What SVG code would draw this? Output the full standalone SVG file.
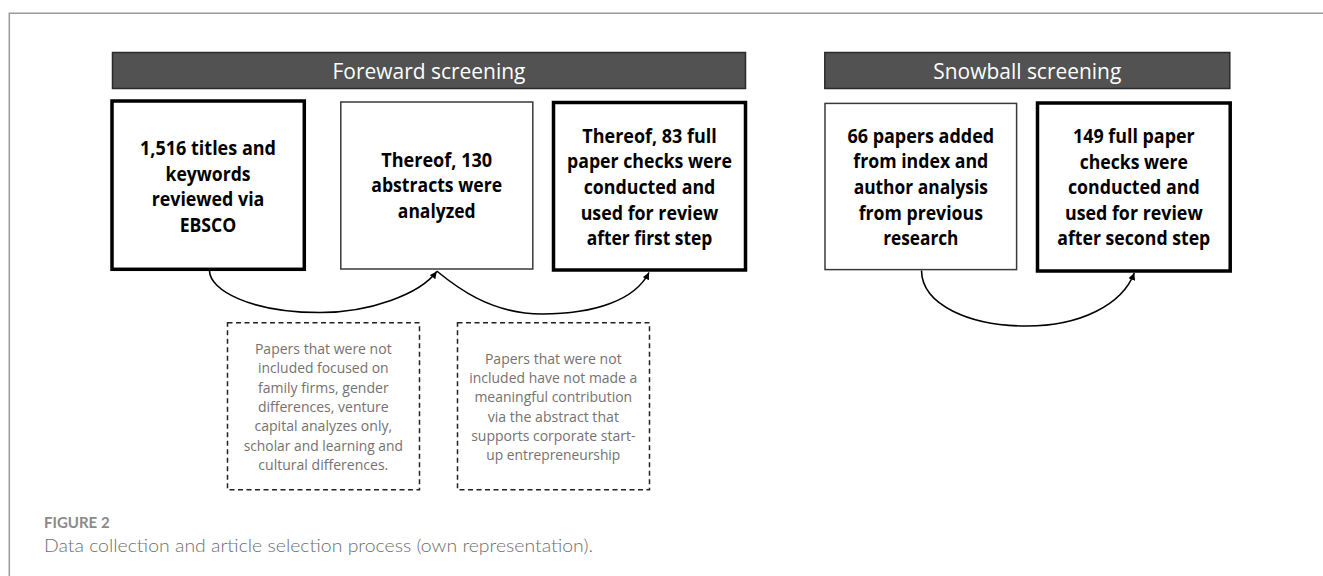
<svg xmlns="http://www.w3.org/2000/svg" width="1323" height="576" viewBox="0 0 1323 576">
<style>
.frame{fill:none;stroke:#9a9a9a;stroke-width:1.5}
.bar{fill:#525252;stroke:#2a2a2a;stroke-width:1.5}
.bartxt{font-family:"Open Sans","Liberation Sans",sans-serif;font-size:21.5px;fill:#ffffff;text-anchor:middle}
.thick{fill:#ffffff;stroke:#000000;stroke-width:3.5}
.thin{fill:#ffffff;stroke:#3a3a3a;stroke-width:1.5}
.btxt{font-family:"Open Sans","Liberation Sans",sans-serif;font-size:18.8px;font-weight:700;fill:#000000;text-anchor:middle}
.dash{fill:#ffffff;stroke:#222222;stroke-width:1.5;stroke-dasharray:5 3.5}
.dtxt{font-family:"Open Sans","Liberation Sans",sans-serif;font-size:15px;fill:#767171;text-anchor:middle}
.conn{fill:none;stroke:#000000;stroke-width:1.6}
.cap1{font-family:Lato,"Liberation Sans",sans-serif;font-size:15px;font-weight:700;fill:#8a8a8a}
.cap2{font-family:Lato,"Liberation Sans",sans-serif;font-size:17.5px;font-weight:300;fill:#6e6e6e}
</style>
<defs>
<marker id="arr" markerUnits="userSpaceOnUse" markerWidth="10" markerHeight="10" refX="7" refY="3.5" orient="auto">
<path d="M0,0 L7,3.5 L0,7 z" fill="#000000"/>
</marker>
</defs>
<g id="frame">
<path class="frame" d="M9.3,576 L9.3,13.3 L1323,13.3"/>
</g>
<g id="bar-foreward">
<rect class="bar" x="112.5" y="52.5" width="633" height="36"/>
<text class="bartxt" x="429" y="78.8" textLength="193" lengthAdjust="spacingAndGlyphs">Foreward screening</text>
</g>
<g id="bar-snowball">
<rect class="bar" x="824.8" y="52.5" width="405" height="36"/>
<text class="bartxt" x="1027.3" y="78.8" textLength="188" lengthAdjust="spacingAndGlyphs">Snowball screening</text>
</g>
<g id="box1">
<rect class="thick" x="112" y="101" width="192.3" height="168.3"/>
<text class="btxt" x="208" y="155" textLength="136" lengthAdjust="spacingAndGlyphs">1,516 titles and</text>
<text class="btxt" x="208" y="180.5" textLength="85" lengthAdjust="spacingAndGlyphs">keywords</text>
<text class="btxt" x="208" y="206" textLength="112.7" lengthAdjust="spacingAndGlyphs">reviewed via</text>
<text class="btxt" x="208" y="231.7" textLength="56.7" lengthAdjust="spacingAndGlyphs">EBSCO</text>
</g>
<g id="box2">
<rect class="thin" x="340.8" y="102" width="192" height="167"/>
<text class="btxt" x="436.7" y="166.7" textLength="111" lengthAdjust="spacingAndGlyphs">Thereof, 130</text>
<text class="btxt" x="436.7" y="192.4" textLength="130.7" lengthAdjust="spacingAndGlyphs">abstracts were</text>
<text class="btxt" x="436.7" y="218" textLength="77.7" lengthAdjust="spacingAndGlyphs">analyzed</text>
</g>
<g id="box3">
<rect class="thick" x="553.5" y="102.5" width="192" height="167.5"/>
<text class="btxt" x="649.5" y="142.7" textLength="134.3" lengthAdjust="spacingAndGlyphs">Thereof, 83 full</text>
<text class="btxt" x="649.5" y="168.3" textLength="165" lengthAdjust="spacingAndGlyphs">paper checks were</text>
<text class="btxt" x="649.5" y="193.9" textLength="131.7" lengthAdjust="spacingAndGlyphs">conducted and</text>
<text class="btxt" x="649.5" y="219.5" textLength="137.7" lengthAdjust="spacingAndGlyphs">used for review</text>
<text class="btxt" x="649.5" y="245.1" textLength="125.7" lengthAdjust="spacingAndGlyphs">after first step</text>
</g>
<g id="box4">
<rect class="thin" x="825" y="103.4" width="191.6" height="166.2"/>
<text class="btxt" x="920.8" y="142.7" textLength="146.7" lengthAdjust="spacingAndGlyphs">66 papers added</text>
<text class="btxt" x="920.8" y="168.3" textLength="135" lengthAdjust="spacingAndGlyphs">from index and</text>
<text class="btxt" x="920.8" y="193.9" textLength="134.3" lengthAdjust="spacingAndGlyphs">author analysis</text>
<text class="btxt" x="920.8" y="219.5" textLength="124.3" lengthAdjust="spacingAndGlyphs">from previous</text>
<text class="btxt" x="920.8" y="245.1" textLength="75.3" lengthAdjust="spacingAndGlyphs">research</text>
</g>
<g id="box5">
<rect class="thick" x="1037.5" y="103" width="192.7" height="168"/>
<text class="btxt" x="1133.8" y="143.2" textLength="121.7" lengthAdjust="spacingAndGlyphs">149 full paper</text>
<text class="btxt" x="1133.8" y="168.6" textLength="108.3" lengthAdjust="spacingAndGlyphs">checks were</text>
<text class="btxt" x="1133.8" y="194.1" textLength="131.7" lengthAdjust="spacingAndGlyphs">conducted and</text>
<text class="btxt" x="1133.8" y="219.6" textLength="137.7" lengthAdjust="spacingAndGlyphs">used for review</text>
<text class="btxt" x="1133.8" y="245.2" textLength="153" lengthAdjust="spacingAndGlyphs">after second step</text>
</g>
<g id="note1">
<rect class="dash" x="227.5" y="322.7" width="192" height="167"/>
<text class="dtxt" x="323.3" y="354" textLength="136.7" lengthAdjust="spacingAndGlyphs">Papers that were not</text>
<text class="dtxt" x="323.3" y="373.3" textLength="130.7" lengthAdjust="spacingAndGlyphs">included focused on</text>
<text class="dtxt" x="323.3" y="392.6" textLength="130.7" lengthAdjust="spacingAndGlyphs">family firms, gender</text>
<text class="dtxt" x="323.3" y="411.9" textLength="130.7" lengthAdjust="spacingAndGlyphs">differences, venture</text>
<text class="dtxt" x="323.3" y="431.2" textLength="137.7" lengthAdjust="spacingAndGlyphs">capital analyzes only,</text>
<text class="dtxt" x="323.3" y="450.5" textLength="159.3" lengthAdjust="spacingAndGlyphs">scholar and learning and</text>
<text class="dtxt" x="323.3" y="469.8" textLength="130" lengthAdjust="spacingAndGlyphs">cultural differences.</text>
</g>
<g id="note2">
<rect class="dash" x="457.5" y="322.7" width="192" height="167"/>
<text class="dtxt" x="553.3" y="363.6" textLength="136.7" lengthAdjust="spacingAndGlyphs">Papers that were not</text>
<text class="dtxt" x="553.3" y="382.9" textLength="168" lengthAdjust="spacingAndGlyphs">included have not made a</text>
<text class="dtxt" x="553.3" y="402.2" textLength="157.7" lengthAdjust="spacingAndGlyphs">meaningful contribution</text>
<text class="dtxt" x="553.3" y="421.5" textLength="131.3" lengthAdjust="spacingAndGlyphs">via the abstract that</text>
<text class="dtxt" x="553.3" y="440.8" textLength="164.3" lengthAdjust="spacingAndGlyphs">supports corporate start-</text>
<text class="dtxt" x="553.3" y="460.1" textLength="134" lengthAdjust="spacingAndGlyphs">up entrepreneurship</text>
</g>
<g id="connectors">
<path class="conn" marker-end="url(#arr)" d="M209.5,271 C210,290 250,312.5 320,312.5 C370,312.5 420,294 436.7,271.5"/>
<path class="conn" marker-end="url(#arr)" d="M436.7,271 C455,286 490,314 542,314 C595,314 635,300 649,272.5"/>
<path class="conn" marker-end="url(#arr)" d="M921.5,270.5 C922,305 970,326 1026.7,326 C1080,326 1122,305 1134.3,273"/>
</g>
<g id="caption">
<text class="cap1" x="44" y="528.3">FIGURE 2</text>
<text class="cap2" x="44" y="551.7" textLength="549" lengthAdjust="spacingAndGlyphs">Data collection and article selection process (own representation).</text>
</g>
</svg>
